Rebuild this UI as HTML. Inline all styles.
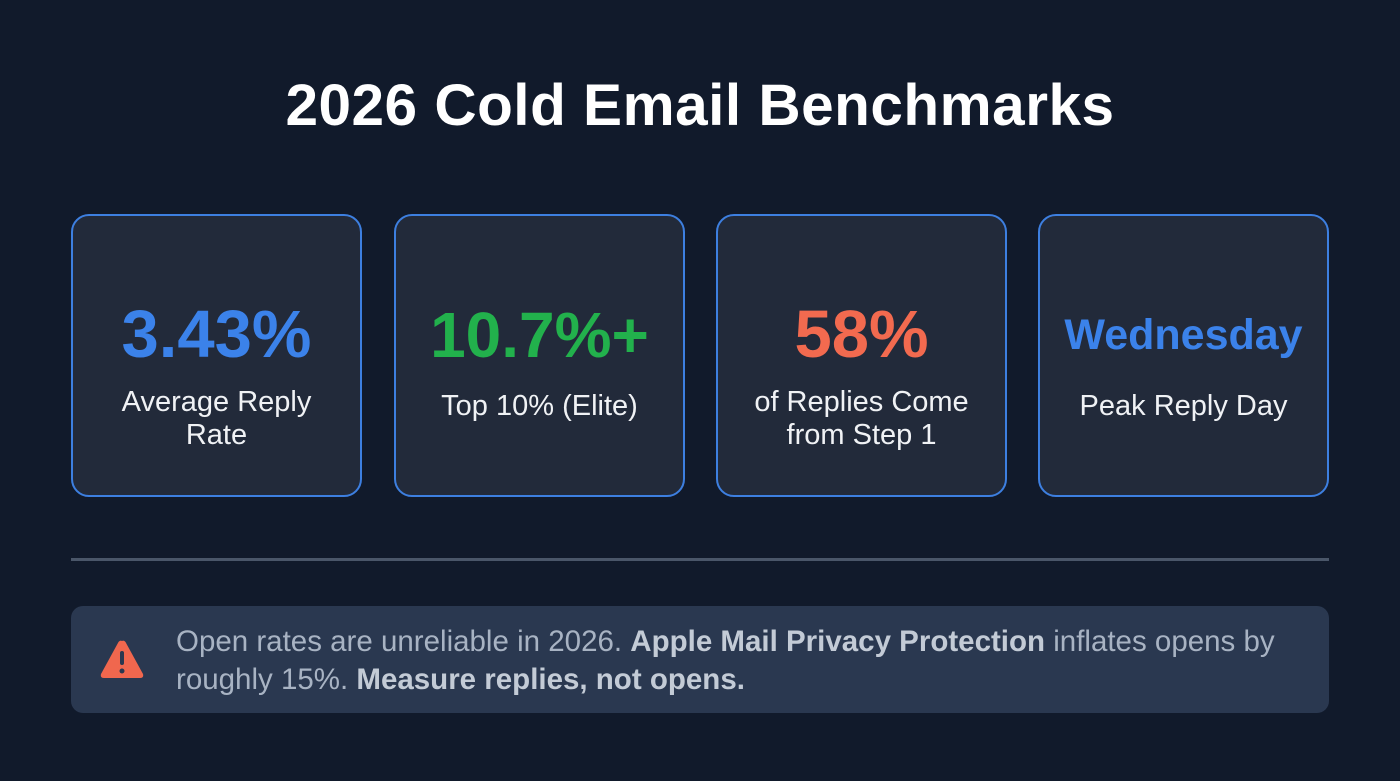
<!DOCTYPE html>
<html><head><meta charset="utf-8"><style>
*{margin:0;padding:0;box-sizing:border-box}
body{width:1400px;height:781px;background:#111a2b;font-family:"Liberation Sans",sans-serif;position:relative;overflow:hidden}
h1{position:absolute;top:72px;left:0;width:1400px;text-align:center;color:#fff;font-size:58.5px;font-weight:bold;letter-spacing:0.5px}
.card{position:absolute;top:214px;width:291px;height:283px;border:2.5px solid #3d7fe0;border-radius:18px;background:#222a3a;text-align:center}
.v{position:absolute;left:0;width:100%;top:84px;font-size:67px;font-weight:bold;line-height:70px}
.l{position:absolute;left:0;width:100%;top:170px;color:#f0f2f5;font-size:29px;line-height:33px}
.div{position:absolute;left:71px;top:558px;width:1258px;height:3px;background:#4a5669}
.note{position:absolute;left:71px;top:606px;width:1258px;height:107px;border-radius:12px;background:#2a3850}
.nt{position:absolute;left:105px;top:17px;color:#a8b3c3;font-size:29.5px;line-height:38px;white-space:nowrap}
.nt b{color:#c3cbd6}
</style></head><body>
<h1>2026 Cold Email Benchmarks</h1>
<div class="card" style="left:71px"><div class="v" style="color:#3b82ea">3.43%</div><div class="l">Average Reply<br>Rate</div></div>
<div class="card" style="left:394px"><div class="v" style="color:#22b14c;font-size:64px">10.7%+</div><div class="l" style="top:174px">Top 10% (Elite)</div></div>
<div class="card" style="left:716px"><div class="v" style="color:#f26a4f">58%</div><div class="l">of Replies Come<br>from Step 1</div></div>
<div class="card" style="left:1038px"><div class="v" style="color:#3b82ea;font-size:43px">Wednesday</div><div class="l" style="top:174px">Peak Reply Day</div></div>
<div class="div"></div>
<div class="note">
<svg style="position:absolute;left:28px;top:32px" width="46" height="42" viewBox="0 0 46 42"><path d="M23 3 Q25 2 26.5 4 L44 36 Q45 40 41 40 L5 40 Q1 40 2 36 L19.5 4 Q21 2 23 3Z" fill="#f0674e"/><rect x="21" y="13" width="4" height="14" rx="2" fill="#2a3850"/><circle cx="23" cy="33" r="2.5" fill="#2a3850"/></svg>
<div class="nt">Open rates are unreliable in 2026. <b>Apple Mail Privacy Protection</b> inflates opens by<br>roughly 15%. <b>Measure replies, not opens.</b></div>
</div>
</body></html>
